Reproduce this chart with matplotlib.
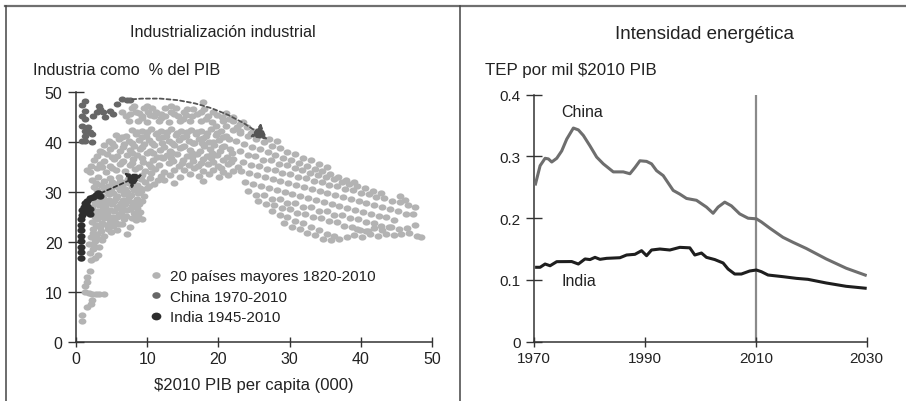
import matplotlib
matplotlib.use("Agg")
import matplotlib.pyplot as plt
from matplotlib.lines import Line2D
from matplotlib.path import Path
from matplotlib.transforms import Affine2D

plt.rcParams['font.family'] = ['Liberation Sans', 'DejaVu Sans']

# ---------------- data: left panel ----------------
# 20 largest countries 1820-2010: (GDP per capita, thousand $2010 ; industry % of GDP)
paises_bajo = [
    (0.8,4.2),(0.9,5.3),(1.5,7.0),(2.1,7.6),(2.2,8.3),(1.3,10.0),(1.8,9.7),(2.3,9.6),(2.8,9.6),(3.3,9.5),(3.9,9.6),
    (1.2,11.2),(1.6,12.0),(1.5,13.0),(2.0,14.2),
    (2.1,16.3),(2.6,16.8),(3.1,17.4),(2.0,17.8),(2.4,18.6),(3.3,18.9),(1.8,19.6),(2.7,20.1),(3.6,20.4),(2.1,21.0),
    (3.0,21.6),(4.0,21.2),(4.9,22.0),(5.7,22.3),(7.2,21.5),(2.4,22.6),(3.4,23.0),(4.3,23.4),(5.2,23.1),(6.1,23.6),
    (7.6,23.0),(2.2,24.0),(3.0,24.5),(3.9,24.8),(4.8,24.3),(5.8,24.9),(6.7,24.5),(8.4,24.3),(9.2,24.6),(2.6,25.6),
    (3.5,26.0),(4.4,25.8),(5.3,26.3),(6.3,25.9),(7.2,26.4),(8.1,25.8),(9.0,26.1),(2.3,27.0),(3.2,27.4),(4.1,27.1),
    (5.0,27.6),(6.0,27.2),(6.9,27.7),(7.8,27.3),(8.8,27.6),(2.9,28.5),(3.8,28.8),(4.7,28.4),(5.6,28.9),(6.6,28.5),
    (7.5,29.0),(8.5,28.7),(9.5,29.2),(3.3,29.8),(4.3,30.3),(5.2,29.9),(6.2,30.4),(7.1,30.0),(8.1,30.5),(9.1,30.2),
    (10.0,30.8),(2.5,31.0),(3.5,31.5),(4.5,31.2),(5.5,31.7),(6.5,31.3),(7.5,31.8),(8.6,31.5),(9.7,32.0),(10.9,31.6),
    (12.3,32.4),(13.7,31.8),(17.9,32.3),(2.3,32.5),(3.1,33.0),(4.8,32.8),(6.0,33.1),(7.3,32.7),(8.3,33.3),
    (2.5,19.2),(3.0,20.8),(2.4,21.8),(3.5,22.2),(4.5,22.6),(2.8,23.3),(3.7,23.8),(4.7,23.6),(5.5,23.9),(6.5,23.5),
    (2.7,24.9),(3.4,25.3),(4.2,25.2),(5.1,25.0),(6.0,25.4),(7.0,25.2),(7.9,24.8),(8.7,25.2),(2.9,26.3),(3.8,26.6),
    (4.8,26.5),(5.7,26.8),(6.6,26.6),(7.6,26.7),(8.5,26.9),(2.6,27.8),(3.6,28.1),(4.5,27.8),(5.4,28.2),(6.3,27.9),
    (7.3,28.3),(8.2,28.0),(9.2,28.3),(2.6,29.3),(3.7,29.2),(4.7,29.6),(5.7,29.3),(6.7,29.7),(7.7,29.4),(8.7,29.8),
    (2.9,30.5),(3.9,30.8),(4.9,30.6),(5.9,31.0),(6.9,30.7),(7.9,31.1),(9.0,30.9),(10.2,31.3),(2.8,31.8),(4.0,32.2),
    (5.1,32.0),(6.2,32.3),(7.0,32.1),(8.0,32.4),(9.1,32.6),(10.4,32.8),(11.5,32.4),
]
paises_centro = [
    (9.2,33.4),(10.5,33.8),(11.9,33.2),(13.2,33.5),(14.6,33.0),(16.0,33.6),(17.3,33.3),(18.7,33.7),(20.1,33.1),(21.4,33.4),
    (1.6,34.4),(2.9,34.8),(4.2,34.1),(5.6,34.5),(6.9,34.3),(8.3,34.7),(9.7,34.2),(11.1,34.6),(12.4,34.1),(13.8,34.5),
    (15.2,34.4),(16.6,34.8),(17.9,34.2),(19.3,34.5),(20.7,34.0),(22.0,34.3),
    (2.1,35.3),(3.4,35.7),(4.8,35.2),(6.2,35.6),(7.6,35.5),(8.9,35.1),(10.3,35.6),(11.7,35.4),(13.1,35.8),(14.5,35.2),
    (15.9,35.5),(17.2,35.3),(18.6,35.7),(20.0,35.2),(21.4,35.6),(22.8,35.1),
    (2.5,36.5),(3.9,36.2),(5.3,36.7),(6.6,36.3),(8.0,36.6),(9.4,36.1),(10.8,36.4),(12.2,36.8),(13.6,36.2),(15.0,36.5),
    (16.4,36.3),(17.8,36.7),(19.2,36.1),(20.6,36.4),(22.0,36.6),
    (3.0,37.3),(4.4,37.7),(5.8,37.2),(7.2,37.5),(8.6,37.4),(10.0,37.8),(11.4,37.1),(12.8,37.4),(14.2,37.6),(15.6,37.2),
    (17.0,37.7),(18.4,37.3),(19.8,37.5),(21.2,37.1),
    (3.4,38.3),(4.8,38.6),(6.2,38.2),(7.6,38.5),(9.0,38.7),(10.4,38.2),(11.8,38.5),(13.2,38.3),(14.6,38.8),(16.0,38.4),
    (17.4,38.2),(18.8,38.6),(20.2,38.3),(21.6,38.7),
    (4.0,39.5),(5.4,39.2),(6.8,39.6),(8.2,39.3),(9.6,39.7),(11.0,39.4),(12.4,39.1),(13.8,39.5),(15.2,39.3),(16.6,39.8),
    (18.0,39.2),(19.4,39.5),(20.8,39.3),
    (4.7,40.3),(6.1,40.7),(7.5,40.2),(8.9,40.5),(10.3,40.4),(11.7,40.8),(13.1,40.2),(14.5,40.5),(15.9,40.3),(17.3,40.7),
    (18.7,40.1),(20.1,40.4),(21.5,40.6),
    (5.6,41.5),(7.0,41.2),(8.4,41.6),(9.8,41.3),(11.2,41.7),(12.6,41.2),(14.0,41.5),(15.4,41.3),(16.8,41.7),(18.2,41.2),
    (19.6,41.5),(21.0,41.3),
    (7.8,42.5),(9.2,42.2),(10.6,42.6),(12.0,42.3),(13.4,42.7),(14.8,42.2),(16.2,42.5),(17.6,42.3),(19.0,42.6),(20.4,42.2),
    (2.0,34.0),(3.6,35.0),(5.1,34.9),(6.4,36.0),(7.9,35.9),(9.2,36.9),(10.6,35.0),(12.0,37.0),(13.4,36.9),(14.9,35.9),
    (16.3,37.0),(17.6,35.9),(19.0,36.9),(20.4,34.9),(21.7,36.0),
    (3.7,38.0),(5.1,37.0),(6.6,39.0),(7.9,37.9),(9.3,39.0),(10.8,37.9),(12.1,39.9),(13.5,37.9),(14.9,39.0),(16.3,37.9),
    (17.7,39.9),(19.1,37.9),(20.5,39.0),(21.9,37.9),
    (5.0,39.9),(6.5,41.0),(7.8,39.9),(9.2,41.0),(10.7,39.9),(12.2,41.1),(13.5,39.9),(15.0,41.0),(16.4,39.9),(17.9,40.9),
    (19.3,40.0),(20.7,41.0),
    (8.6,42.0),(10.0,42.0),(11.4,41.9),(12.8,42.0),(14.2,41.9),(15.6,42.0),(17.0,42.0),(18.4,41.8),(19.8,41.9),
]
paises_arco = [
    (6.4,46.0),(7.0,45.2),(7.4,44.2),(7.9,46.8),(8.4,46.1),(8.7,44.3),(9.2,45.3),(9.5,46.9),(10.0,44.1),(10.1,46.0),
    (10.7,46.8),(11.0,45.2),(11.3,46.1),(11.6,44.3),(12.5,46.9),(12.5,45.3),(13.0,44.1),(13.4,46.1),(14.1,46.8),(14.3,45.2),
    (14.6,44.3),(15.2,46.0),(16.0,44.2),(16.3,45.3),(16.5,46.7),(17.5,46.0),(17.6,44.3),(17.8,48.0),(18.6,45.2),(19.1,44.1),
    (19.3,46.0),(19.6,43.2),(20.5,45.1),(20.6,44.2),(21.0,43.2),(21.1,45.9),(22.0,45.0),(22.1,44.2),(22.6,43.1),(23.5,44.0),
    (24.0,43.0),(23.0,42.2),(24.6,41.8),
    (7.6,45.7),(8.9,45.8),(10.4,45.5),(11.9,45.7),(13.7,45.6),(15.5,45.5),(17.0,45.6),(18.0,46.6),(19.8,45.5),(21.5,44.6),
    (23.0,43.6),(9.3,44.8),(12.0,44.9),(15.0,44.7),(18.2,44.7),(8.1,47.2),(10.0,47.3),(13.3,47.2),(15.6,46.7),
]
paises_descenso = [
    (22.0,42.5),(23.1,41.8),(24.2,41.3),(25.3,40.6),(26.4,40.1),(27.5,39.3),(28.6,38.9),(29.7,38.0),(30.8,37.7),
    (31.9,36.8),(33.0,36.4),(34.1,35.6),(35.2,35.1),
    (22.5,40.3),(23.6,39.7),(24.7,39.1),(25.8,38.6),(26.9,38.0),(28.0,37.5),(29.1,36.9),(30.2,36.4),(31.3,35.8),
    (32.4,35.3),(33.5,34.7),(34.6,34.2),(35.7,33.6),(36.8,33.1),(37.9,32.5),(39.0,32.0),
    (23.0,38.2),(24.1,37.4),(25.2,37.3),(26.3,36.5),(27.4,36.4),(28.5,35.6),(29.6,35.4),(30.7,34.8),(31.8,34.4),
    (32.9,33.9),(34.0,33.5),(35.1,33.0),(36.2,32.6),(37.3,32.1),(38.4,31.7),(39.5,31.2),(40.6,30.8),(41.7,30.3),(42.8,29.9),
    (23.5,36.1),(24.6,35.4),(25.7,35.3),(26.8,34.6),(27.9,34.5),(29.0,33.8),(30.1,33.7),(31.2,33.0),(32.3,32.9),
    (33.4,32.2),(34.5,32.1),(35.6,31.4),(36.7,31.3),(37.8,30.6),(38.9,30.5),(40.0,29.8),(41.1,29.7),(42.2,29.0),
    (43.3,28.9),(44.4,28.2),(45.5,28.1),(46.6,27.4),
    (23.2,34.3),(24.3,33.8),(25.4,33.5),(26.5,33.0),(27.6,32.7),(28.7,32.2),(29.8,31.9),(30.9,31.4),(32.0,31.1),
    (33.1,30.6),(34.2,30.3),(35.3,29.8),(36.4,29.5),(37.5,29.0),(38.6,28.7),(39.7,28.2),(40.8,27.9),(41.9,27.4),
    (43.0,27.1),(44.1,26.6),(45.2,26.3),(46.3,25.7),
    (23.8,32.1),(24.9,31.6),(26.0,31.3),(27.1,30.8),(28.2,30.5),(29.3,30.0),(30.4,29.7),(31.5,29.2),(32.6,28.9),
    (33.7,28.4),(34.8,28.1),(35.9,27.6),(37.0,27.3),(38.1,26.8),(39.2,26.5),(40.3,26.0),(41.4,25.7),(42.5,25.2),
    (43.6,24.9),(44.7,24.4),
    (24.2,30.2),(25.3,29.5),(26.4,29.4),(27.5,28.7),(28.6,28.6),(29.7,27.9),(30.8,27.8),(31.9,27.1),(33.0,27.0),
    (34.1,26.3),(35.2,26.2),(36.3,25.5),(37.4,25.4),(38.5,24.7),(39.6,24.6),(40.7,23.9),(41.8,23.8),(42.9,23.1),(44.0,23.0),
    (25.6,28.3),(26.7,27.7),(27.8,27.5),(28.9,26.8),(30.0,26.6),(31.1,25.9),(32.2,25.7),(33.3,25.0),(34.4,24.8),
    (35.5,24.1),(36.6,23.9),(37.7,23.2),(38.8,23.0),(39.9,22.3),(41.0,22.1),
    (27.5,26.2),(28.6,25.4),(29.7,25.0),(30.8,24.2),(31.9,23.7),(33.0,22.9),(34.1,22.4),(35.2,21.6),(36.3,21.2),
    (29.2,23.8),(30.3,23.0),(31.4,22.6),(32.5,21.8),(33.6,21.4),(34.7,20.6),(35.8,20.4),(36.9,20.6),
    (38.0,20.9),(39.1,21.3),(40.2,21.0),(41.3,21.5),(42.4,21.2),(43.5,21.6),(44.6,21.3),(45.7,21.5),(46.8,21.8),
    (47.9,21.2),(48.4,20.9),
    (39.5,22.6),(40.7,22.2),(41.8,22.8),(43.0,22.4),(44.2,22.9),(45.3,22.5),(46.5,22.8),(47.6,23.3),
    (45.5,29.2),(47.3,25.6),(46.2,28.4),(47.6,27.0),(24.9,42.2),(26.0,41.4),(27.1,40.7),(28.2,40.2),
]
paises_x = [p[0] for p in paises_bajo + paises_centro + paises_arco + paises_descenso]
paises_y = [p[1] for p in paises_bajo + paises_centro + paises_arco + paises_descenso]

china_x = [0.8, 1.3, 0.8, 1.3, 1.7, 1.3, 2.0, 2.2, 0.8, 1.3, 2.2, 0.9, 1.2, 1.3, 2.4, 2.9,
           3.2, 3.4, 3.8, 4.1, 4.8, 5.2, 5.7, 6.5, 7.1, 7.6]
china_y = [40.3, 40.3, 43.3, 44.7, 43.1, 42.3, 42.0, 41.7, 45.3, 46.3, 40.0, 47.5, 48.3, 41.3, 45.3, 46.1,
           47.3, 46.7, 46.0, 45.1, 46.3, 45.7, 47.7, 48.7, 48.5, 48.5]

india_x = [0.7, 0.7, 0.7, 0.7, 0.7, 0.7, 0.7, 0.75, 0.8, 0.9, 1.1, 1.3, 1.6, 2.0, 2.4, 2.8, 3.1, 3.4,
           1.5, 2.0, 1.3, 1.9]
india_y = [16.8, 17.9, 19.0, 20.1, 21.2, 22.3, 23.4, 24.5, 25.5, 26.4, 27.1, 27.8, 28.3, 28.8, 29.1, 29.4,
           29.8, 29.2, 27.3, 26.6, 26.0, 25.6]

legend_labels = ["20 países mayores 1820-2010", "China 1970-2010", "India 1945-2010"]
left_ticks = [0, 10, 20, 30, 40, 50]

# ---------------- data: right panel ----------------
china_years = [1970.2, 1971.1, 1972.0, 1972.6, 1973.2, 1974.1, 1975.0, 1975.9, 1977.1, 1978.0, 1978.9,
               1980.1, 1981.3, 1982.5, 1984.3, 1986.1, 1987.3, 1988.2, 1989.1, 1990.3, 1991.2, 1992.1,
               1993.3, 1995.1, 1996.3, 1997.5, 1999.3, 2001.1, 2002.3, 2003.2, 2004.4, 2005.6, 2007.1,
               2008.6, 2010.1, 2011.0, 2012.5, 2014.9, 2016.7, 2019.1, 2022.7, 2026.3, 2030.0]
china_int = [0.253, 0.285, 0.297, 0.296, 0.291, 0.297, 0.309, 0.328, 0.346, 0.343, 0.334,
             0.317, 0.299, 0.288, 0.275, 0.275, 0.272, 0.282, 0.293, 0.292, 0.288, 0.277,
             0.269, 0.245, 0.239, 0.232, 0.229, 0.218, 0.208, 0.218, 0.226, 0.220, 0.207,
             0.200, 0.199, 0.194, 0.184, 0.169, 0.161, 0.151, 0.134, 0.119, 0.107]

india_years = [1970.2, 1971.1, 1972.0, 1972.9, 1974.1, 1976.8, 1978.0, 1979.2, 1980.1, 1981.0, 1981.9,
               1983.1, 1985.5, 1986.7, 1988.2, 1989.4, 1990.3, 1991.2, 1992.7, 1994.5, 1996.3, 1998.1,
               1999.0, 2000.2, 2001.1, 2002.6, 2004.1, 2005.0, 2006.2, 2007.4, 2008.9, 2010.1, 2011.0,
               2012.2, 2014.9, 2017.3, 2019.4, 2022.7, 2026.3, 2030.0]
india_int = [0.1205, 0.1205, 0.1258, 0.123, 0.1296, 0.1298, 0.1258, 0.134, 0.133, 0.1366, 0.1334,
             0.135, 0.136, 0.1404, 0.1415, 0.1474, 0.1393, 0.1485, 0.1501, 0.1485, 0.1528, 0.152,
             0.1404, 0.1436, 0.1366, 0.133, 0.1275, 0.1177, 0.1096, 0.1096, 0.1145, 0.1161, 0.1134,
             0.108, 0.1053, 0.1026, 0.101, 0.0951, 0.0897, 0.0864]

right_xticks = [1970, 1990, 2010, 2030]
right_yticks = [0, 0.1, 0.2, 0.3, 0.4]
right_yticklabels = ["0", "0.1", "0.2", "0.3", "0.4"]

# ---------------- figure ----------------
W, H = 906, 402
fig = plt.figure(figsize=(W / 100, H / 100), dpi=100)

GRAY = "#b3b3b3"
CHINA_C = "#676767"
INDIA_C = "#2e2e2e"
SPINE_C = "#333333"
TXT_C = "#222222"

# slightly wide dots, as in the reference
ELL = Path.unit_circle().transformed(Affine2D().scale(1.25, 1.0))


def style_axes(ax, tick_fs):
    for s in ["top", "right"]:
        ax.spines[s].set_visible(False)
    for s in ["left", "bottom"]:
        ax.spines[s].set_color(SPINE_C)
        ax.spines[s].set_linewidth(1.1)
    ax.tick_params(axis="y", direction="inout", length=11.5, width=1.0, color=SPINE_C,
                   labelsize=tick_fs, labelcolor=TXT_C, pad=4)
    ax.tick_params(axis="x", direction="inout", length=7.5, width=1.0, color=SPINE_C,
                   labelsize=tick_fs, labelcolor=TXT_C, pad=3)


ax1 = fig.add_axes([76 / W, 1 - 342.7 / H, 356 / W, 249.4 / H])
style_axes(ax1, 11.5)
ax1.set_xlim(0, 50)
ax1.set_ylim(0, 50)
ax1.set_xticks(left_ticks)
ax1.set_yticks(left_ticks)

ax1.scatter(paises_x, paises_y, s=32, marker=ELL, color=GRAY, linewidths=0, zorder=2)
ax1.scatter(china_x, china_y, s=30, marker=ELL, color=CHINA_C, linewidths=0, zorder=3)
ax1.scatter(india_x, india_y, s=34, marker=ELL, color=INDIA_C, linewidths=0, zorder=4)

# arrows
ax1.annotate("", xy=(26.9, 40.5), xytext=(7.9, 48.6),
             arrowprops=dict(arrowstyle="-|>,head_length=0.46,head_width=0.26",
                             connectionstyle="arc3,rad=-0.2", color="#555555",
                             lw=1.3, linestyle=(0, (2.2, 1.6)), mutation_scale=20,
                             shrinkA=0, shrinkB=0), zorder=5)
ax1.annotate("", xy=(9.3, 33.5), xytext=(3.5, 29.8),
             arrowprops=dict(arrowstyle="-|>,head_length=0.46,head_width=0.26",
                             color="#333333", lw=1.3, linestyle=(0, (2.2, 1.6)),
                             mutation_scale=20, shrinkA=0, shrinkB=0), zorder=5)

handles = [Line2D([], [], ls="none", marker=ELL, ms=6.0, mec="none", mfc=GRAY),
           Line2D([], [], ls="none", marker=ELL, ms=6.0, mec="none", mfc=CHINA_C),
           Line2D([], [], ls="none", marker=ELL, ms=7.0, mec="none", mfc=INDIA_C)]
leg = ax1.legend(handles, legend_labels, loc="upper left", bbox_to_anchor=(0.2085, 0.29),
                 frameon=False, fontsize=11, handlelength=0.8, handletextpad=0.5,
                 labelspacing=0.42, borderpad=0, borderaxespad=0)
for t in leg.get_texts():
    t.set_color(TXT_C)

# ---------------- right panel ----------------
ax2 = fig.add_axes([534 / W, 1 - 342.7 / H, 332.7 / W, 247 / H])
style_axes(ax2, 11)
ax2.set_xlim(1970, 2030)
ax2.set_ylim(0, 0.4)
ax2.set_xticks(right_xticks)
ax2.set_yticks(right_yticks)
ax2.set_yticklabels(right_yticklabels)

ax2.axvline(2010, color="#8a8a8a", lw=1.6, zorder=1)
ax2.plot(china_years, china_int, color="#6e6e6e", lw=2.2, solid_capstyle="butt", zorder=3)
ax2.plot(india_years, india_int, color="#1e1e1e", lw=2.2, solid_capstyle="butt", zorder=3)
ax2.text(1975, 0.372, "China", fontsize=11.5, color=TXT_C, ha="left", va="center")
ax2.text(1975, 0.099, "India", fontsize=11.5, color=TXT_C, ha="left", va="center")

# ---------------- texts ----------------
fig.text(223.3 / W, 1 - 37 / H, "Industrialización industrial", fontsize=11.6,
         ha="center", va="baseline", color=TXT_C)
fig.text(33 / W, 1 - 75 / H, "Industria como  % del PIB", fontsize=11.7,
         ha="left", va="baseline", color=TXT_C)
fig.text(254 / W, 1 - 390 / H, "$2010 PIB per capita (000)", fontsize=12,
         ha="center", va="baseline", color=TXT_C)
fig.text(704.7 / W, 1 - 39 / H, "Intensidad energética", fontsize=13.5,
         ha="center", va="baseline", color=TXT_C)
fig.text(485 / W, 1 - 75 / H, "TEP por mil $2010 PIB", fontsize=12.2,
         ha="left", va="baseline", color=TXT_C)

# ---------------- frame lines ----------------
fig.add_artist(Line2D([5 / W, 1], [1 - 7 / H, 1 - 7 / H], transform=fig.transFigure,
                      color="#6f6f6f", lw=1.6))
fig.add_artist(Line2D([5.5 / W, 5.5 / W], [0, 1 - 7 / H], transform=fig.transFigure,
                      color="#444444", lw=1.1))
fig.add_artist(Line2D([459.5 / W, 459.5 / W], [0, 1 - 7 / H], transform=fig.transFigure,
                      color="#444444", lw=1.1))

fig.savefig("out.png", dpi=100)
